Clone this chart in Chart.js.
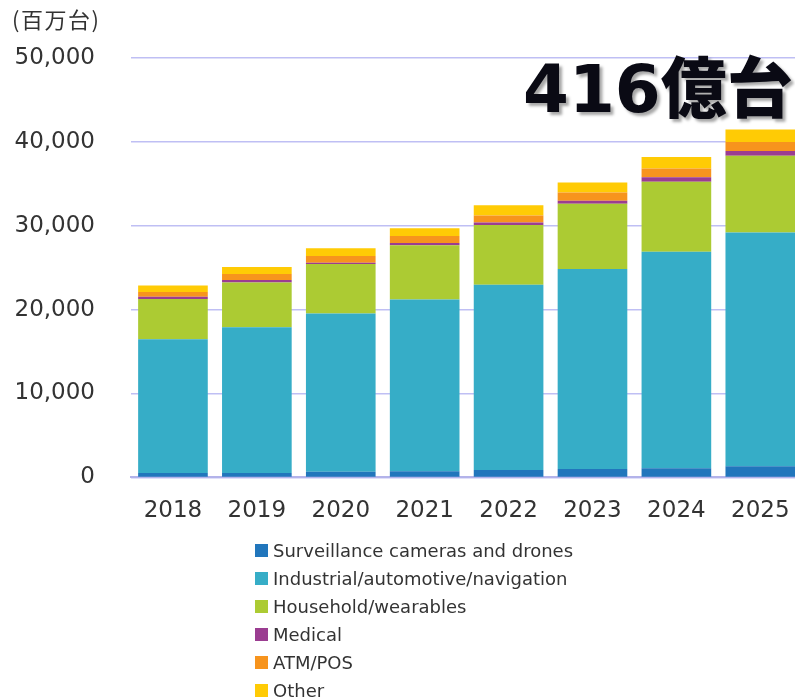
<!DOCTYPE html>
<html>
<head>
<meta charset="utf-8">
<script src="https://cdn.jsdelivr.net/npm/chart.js@4"></script>
<style>
  html, body { margin: 0; padding: 0; background: #fff; overflow: hidden; width: 795px; height: 698px; }
  #wrap { position: relative; width: 795px; height: 698px; }
  #myChart { position: absolute; left: 0; top: 0; }
  #unidad { position: absolute; left: 12px; top: 4px; font: 22px/28px "Noto Sans CJK JP", sans-serif; color: #333; letter-spacing: 1.5px; }
  #total { position: absolute; left: 523px; top: 57px; font-family: "DejaVu Sans", "Noto Sans CJK JP", sans-serif;
           font-weight: 900; font-size: 66px; line-height: 66px; color: #0a0a14; white-space: nowrap;
           text-shadow: 3px 3px 3px rgba(0,0,0,0.35); }
  #leyenda { position: absolute; left: 255px; top: 537px; margin: 0; padding: 0; list-style: none;
             font: 18px/28px "DejaVu Sans", sans-serif; color: #333; }
  #leyenda li { display: flex; align-items: baseline; white-space: nowrap; }
  #leyenda span.caja { display: inline-block; width: 13px; height: 13px; margin-right: 5px; }
</style>
</head>
<body>
<div id="wrap">
  <canvas id="myChart" width="810" height="551"></canvas>
  <div id="unidad">(百万台)</div>
  <div id="total">416億台</div>
  <ul id="leyenda"></ul>
</div>
<script>
// datos (millones de unidades)
const anios = ["2018", "2019", "2020", "2021", "2022", "2023", "2024", "2025"];
const vigilancia = [520, 530, 680, 720, 870, 1000, 1080, 1320];
const industrial = [15950, 17370, 18860, 20500, 22100, 23850, 25830, 27870];
const hogar = [4790, 5350, 5900, 6460, 7130, 7770, 8340, 9170];
const medico = [270, 280, 160, 270, 280, 360, 520, 560];
const cajeros = [560, 720, 800, 840, 840, 990, 1070, 1080];
const otros = [800, 830, 920, 920, 1240, 1200, 1360, 1470];
const etiquetasY = [0, 10000, 20000, 30000, 40000, 50000];

const series = [
  { label: "Surveillance cameras and drones", data: vigilancia, color: "#2176bc" },
  { label: "Industrial/automotive/navigation", data: industrial, color: "#36adc7" },
  { label: "Household/wearables", data: hogar, color: "#accb33" },
  { label: "Medical", data: medico, color: "#9b3d91" },
  { label: "ATM/POS", data: cajeros, color: "#f7941d" },
  { label: "Other", data: otros, color: "#ffcb05" },
];

const fuente = "'DejaVu Sans', sans-serif";

const config = {
  type: "bar",
  data: {
    labels: anios,
    datasets: series.map((s) => ({
      label: s.label,
      data: s.data,
      backgroundColor: s.color,
      borderWidth: 0,
      barPercentage: 0.83,
      categoryPercentage: 1,
    })),
  },
  options: {
    responsive: false,
    animation: false,
    layout: { padding: { top: 58, right: 7, bottom: 6, left: 0 } },
    plugins: { legend: { display: false }, tooltip: { enabled: false } },
    scales: {
      x: {
        stacked: true,
        grid: { display: false, drawTicks: false },
        border: { color: "#b3b3ea", width: 2 },
        ticks: { color: "#333", padding: 20, font: { family: fuente, size: 23 } },
      },
      y: {
        stacked: true,
        min: 0,
        max: 50000,
        afterBuildTicks: (scale) => { scale.ticks = etiquetasY.map((v) => ({ value: v })); },
        afterFit: (scale) => { scale.width = 131; },
        grid: { color: "rgba(180,180,242,0.85)", lineWidth: 1.5, drawTicks: false },
        border: { display: false },
        ticks: {
          color: "#333",
          padding: 36,
          font: { family: fuente, size: 23 },
          callback: (v) => v.toLocaleString("en-US"),
        },
      },
    },
  },
};

const myChart = new Chart(document.getElementById("myChart"), config);

// leyenda vertical en HTML
const leyenda = document.getElementById("leyenda");
myChart.data.datasets.forEach((ds) => {
  const li = document.createElement("li");
  li.innerHTML = `<span class="caja" style="background:${ds.backgroundColor}"></span>${ds.label}`;
  leyenda.appendChild(li);
});
</script>
</body>
</html>
